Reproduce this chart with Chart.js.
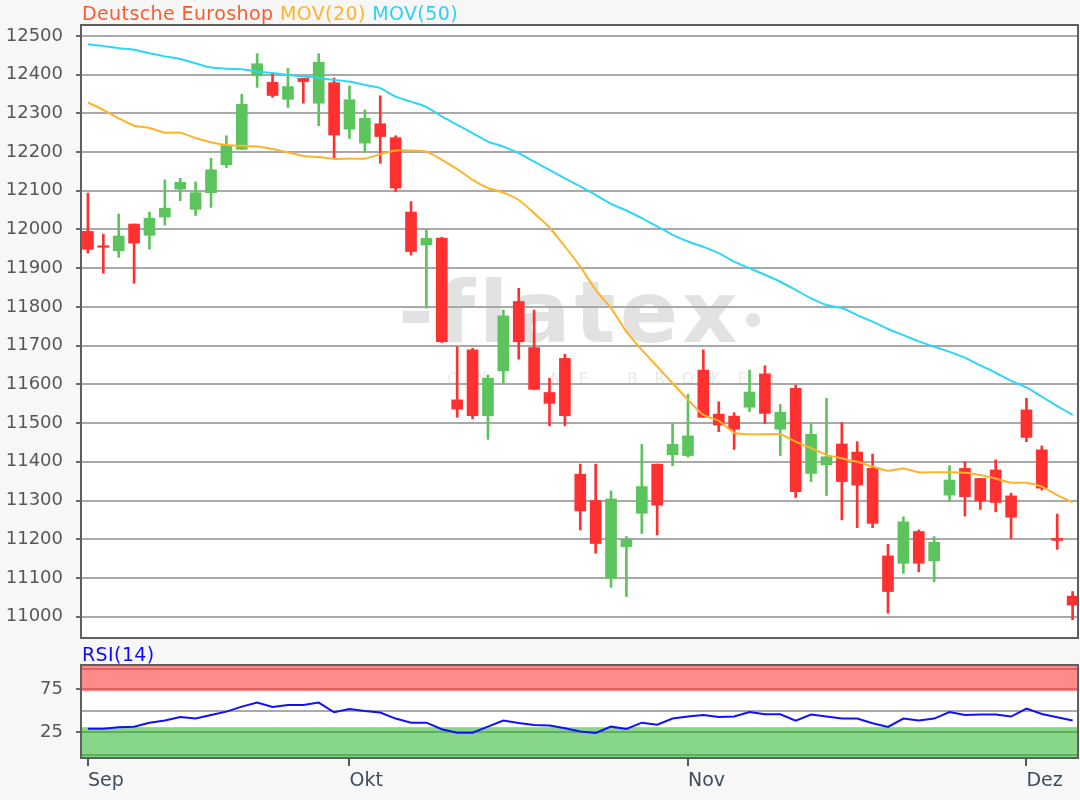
<!DOCTYPE html>
<html>
<head>
<meta charset="utf-8">
<script src="https://cdn.jsdelivr.net/npm/chart.js@4.4.0/dist/chart.umd.min.js"></script>
<style>
  html, body { margin: 0; padding: 0; background: #f7f7f7; }
  #wrap { position: relative; width: 1080px; height: 800px; overflow: hidden; font-family: "DejaVu Sans", sans-serif; }
  #main { position: absolute; left: 0; top: 0; }
  #rsi { position: absolute; left: 0; top: 640px; }
  .lbl { position: absolute; font-size: 19px; line-height: 20px; white-space: nowrap; letter-spacing: 0.4px; }
</style>
</head>
<body>
<div id="wrap">
  <canvas id="main" width="1080" height="640"></canvas>
  <canvas id="rsi" width="1080" height="160"></canvas>
  <div class="lbl" style="left:82px;top:3px;"><span style="color:#ff5a2e">Deutsche Euroshop</span> <span style="color:#ffb32a">MOV(20)</span> <span style="color:#2ed0f2">MOV(50)</span></div>
  <div class="lbl" style="left:82px;top:644px;color:#0a0aff">RSI(14)</div>
</div>
<script>
// === DATEN ===
const monthTicks = [0, 17, 39, 61];
const monthLabels = ["Sep", "Okt", "Nov", "Dez"];
const priceTicks = [11000, 11100, 11200, 11300, 11400, 11500, 11600, 11700, 11800, 11900, 12000, 12100, 12200, 12300, 12400, 12500];
const rsiTicks = [25, 50, 75];

const open = [
  11995, 11958, 11945, 12014, 11985, 12032, 12104, 12052, 12095, 12167,
  12207, 12397, 12380, 12336, 12390, 12326, 12379, 12259, 12223, 12273,
  12237, 12045, 11960, 11978, 11560, 11689, 11519, 11635, 11814, 11695,
  11579, 11667, 11368, 11300, 11099, 11181, 11267, 11394, 11418, 11416,
  11637, 11523, 11518, 11541, 11627, 11484, 11590, 11370, 11392, 11446,
  11425, 11383, 11157, 11138, 11220, 11144, 11314, 11383, 11357, 11379,
  11312, 11534, 11431, 11202, 11053
];
const high = [
  12094, 11988, 12040, 12014, 12045, 12128, 12132, 12123, 12184, 12242,
  12349, 12454, 12404, 12416, 12390, 12454, 12391, 12371, 12309, 12345,
  12242, 12072, 11999, 11980, 11697, 11693, 11624, 11792, 11848, 11792,
  11616, 11678, 11394, 11394, 11325, 11207, 11445, 11394, 11498, 11574,
  11689, 11555, 11527, 11637, 11648, 11548, 11598, 11498, 11564, 11501,
  11452, 11420, 11187, 11258, 11224, 11207, 11390, 11400, 11357, 11405,
  11319, 11564, 11441, 11265, 11065
];
const low = [
  11939, 11887, 11928, 11861, 11949, 12011, 12074, 12036, 12057, 12160,
  12207, 12367, 12341, 12315, 12326, 12268, 12184, 12235, 12199, 12171,
  12098, 11934, 11797, 11708, 11515, 11511, 11458, 11603, 11665, 11586,
  11493, 11493, 11224, 11164, 11076, 11052, 11215, 11211, 11390, 11412,
  11515, 11478, 11432, 11530, 11499, 11416, 11308, 11349, 11313, 11250,
  11230, 11230, 11009, 11112, 11116, 11090, 11297, 11260, 11277, 11271,
  11202, 11452, 11327, 11174, 10992
];
const close = [
  11949, 11954, 11983, 11965, 12029, 12055, 12122, 12095, 12154, 12217,
  12323, 12428, 12346, 12369, 12382, 12432, 12244, 12335, 12287, 12240,
  12107, 11943, 11977, 11710, 11536, 11519, 11616, 11777, 11710, 11587,
  11551, 11519, 11273, 11189, 11304, 11200, 11336, 11288, 11445, 11467,
  11515, 11495, 11484, 11580, 11525, 11528, 11323, 11471, 11413, 11349,
  11340, 11241, 11065, 11245, 11138, 11192, 11353, 11310, 11299, 11295,
  11257, 11463, 11332, 11197, 11030
];
const mov20 = [
  12328, 12309, 12287, 12268, 12262, 12250, 12250, 12236, 12225, 12218,
  12216, 12214, 12208, 12199, 12190, 12187, 12182, 12183, 12183, 12194,
  12204, 12204, 12201, 12180, 12156, 12128, 12107, 12095, 12076, 12042,
  12005, 11956, 11904, 11844, 11797, 11736, 11689, 11646, 11603, 11560,
  11521, 11506, 11475, 11471, 11471, 11471, 11452, 11435, 11418, 11409,
  11400, 11388, 11377, 11383, 11373, 11373, 11373, 11372, 11366, 11357,
  11346, 11346, 11336, 11314, 11295
];
const mov50 = [
  12478, 12474, 12468, 12464, 12455, 12447, 12440, 12429, 12418, 12415,
  12414, 12408, 12404, 12399, 12395, 12391, 12386, 12382, 12373, 12365,
  12343, 12330, 12316, 12292, 12270, 12249, 12227, 12214, 12197, 12175,
  12154, 12132, 12111, 12089, 12066, 12049, 12029, 12008, 11986, 11969,
  11955, 11939, 11917, 11900, 11883, 11865, 11844, 11822, 11805, 11797,
  11779, 11762, 11743, 11727, 11711, 11697, 11684, 11669, 11649, 11630,
  11609, 11592, 11568, 11544, 11521
];
const rsi14 = [
  29.3, 29.3, 31.0, 31.6, 36.2, 38.6, 42.8, 40.9, 45.0, 48.9,
  54.7, 59.3, 54.3, 56.6, 56.6, 59.3, 48.2, 52.0, 49.7, 47.8,
  40.9, 36.2, 36.2, 28.6, 24.7, 24.7, 31.6, 38.6, 35.9, 33.6,
  33.0, 29.7, 25.9, 24.3, 31.6, 29.0, 36.2, 33.9, 40.9, 43.2,
  45.0, 42.8, 43.2, 48.5, 45.8, 45.8, 38.6, 45.5, 43.2, 40.9,
  40.9, 35.5, 31.3, 40.9, 38.6, 40.9, 48.5, 45.0, 45.5, 45.5,
  43.2, 52.4, 46.2, 42.4, 38.6
];

// === STIL ===
const FONT = "'DejaVu Sans', sans-serif";
const UP = "#5cc45c";
const DOWN = "#ff3030";
const candleColor = close.map((c, i) => (c >= open[i] ? UP : DOWN));

const xMin = -0.45, xMax = 64.35;

// feste Achsenbreite, keine Extra-Polsterung durch Beschriftung
const fixYAxis = s => {
  s.width = 81;
  s.paddingTop = 0;
  s.paddingBottom = 0;
};

const plotFrame = {
  id: "plotFrame",
  beforeDraw(chart) {
    const { ctx, chartArea: a } = chart;
    ctx.save();
    ctx.fillStyle = "#ffffff";
    ctx.fillRect(a.left, a.top, a.width, a.height);
    ctx.restore();
  },
  afterDraw(chart) {
    const { ctx, chartArea: a } = chart;
    ctx.save();
    ctx.strokeStyle = "#5e5e5e";
    ctx.lineWidth = 2;
    ctx.strokeRect(a.left, a.top, a.width, a.height);
    ctx.restore();
  }
};

// flatex-Wasserzeichen, unter dem Gitter
const watermark = {
  id: "watermark",
  beforeDraw(chart) {
    const { ctx } = chart;
    ctx.save();
    ctx.fillStyle = "#e2e2e2";
    ctx.textAlign = "left";
    ctx.textBaseline = "alphabetic";
    ctx.font = "bold 86px " + FONT;
    ctx.letterSpacing = "4px";
    ctx.fillText("-flatex", 398, 342);
    ctx.beginPath();
    ctx.arc(753, 320, 7, 0, Math.PI * 2);
    ctx.fill();
    ctx.fillStyle = "#eaeaea";
    ctx.font = "15px " + FONT;
    ctx.letterSpacing = "17px";
    ctx.fillText("ONLINE BROKER", 447, 384);
    ctx.restore();
  }
};

const rsiBands = {
  id: "rsiBands",
  beforeDatasetsDraw(chart) {
    const { ctx, chartArea: a, scales: { y } } = chart;
    const band = (from, to, fill, line, lines) => {
      const y1 = y.getPixelForValue(from), y2 = y.getPixelForValue(to);
      ctx.fillStyle = fill;
      ctx.fillRect(a.left, Math.min(y1, y2), a.width, Math.abs(y2 - y1));
      ctx.strokeStyle = line;
      ctx.lineWidth = 2;
      lines.forEach(v => {
        const py = Math.round(y.getPixelForValue(v));
        ctx.beginPath();
        ctx.moveTo(a.left, py);
        ctx.lineTo(a.right, py);
        ctx.stroke();
      });
    };
    ctx.save();
    band(101.5, 72.5, "#ff8a8a", "#dd6262", [97.5, 75]);
    band(31, -4.5, "#88d788", "#5fae5f", [25, -0.5]);
    ctx.restore();
  }
};

// === KURS-CHART ===
new Chart(document.getElementById("main"), {
  type: "bar",
  data: {
    datasets: [
      {
        label: "Docht",
        data: low.map((l, i) => ({ x: i, y: [l, high[i]] })),
        backgroundColor: candleColor,
        barThickness: 2,
        grouped: false,
        order: 3
      },
      {
        label: "Kerze",
        data: open.map((o, i) => ({ x: i, y: [o, close[i]] })),
        backgroundColor: candleColor,
        barThickness: 11,
        grouped: false,
        order: 2
      },
      {
        type: "line",
        label: "MOV(20)",
        data: mov20.map((v, i) => ({ x: i, y: v })),
        borderColor: "#ffb32a",
        borderWidth: 2,
        pointRadius: 0,
        tension: 0.2,
        order: 1
      },
      {
        type: "line",
        label: "MOV(50)",
        data: mov50.map((v, i) => ({ x: i, y: v })),
        borderColor: "#2ed6f5",
        borderWidth: 2,
        pointRadius: 0,
        tension: 0.2,
        order: 0
      }
    ]
  },
  options: {
    responsive: false,
    animation: false,
    events: [],
    layout: { padding: { top: 25, right: 2, bottom: 2, left: 0 } },
    plugins: { legend: { display: false }, tooltip: { enabled: false } },
    scales: {
      x: {
        type: "linear",
        min: xMin,
        max: xMax,
        offset: false,
        ticks: { display: false },
        grid: { display: false, drawTicks: false },
        border: { display: false },
        afterFit: s => { s.height = 0; s.paddingLeft = 0; s.paddingRight = 0; }
      },
      y: {
        min: 10945,
        max: 12528,
        afterBuildTicks: s => { s.ticks = priceTicks.map(v => ({ value: v })); },
        afterFit: fixYAxis,
        border: { display: false },
        grid: { color: "#a9a9a9", lineWidth: 2, tickLength: 5, tickColor: "#6a6a6a" },
        ticks: { color: "#575757", padding: 13, font: { family: FONT, size: 18 }, callback: v => String(v) }
      }
    }
  },
  plugins: [plotFrame, watermark]
});

// === RSI-CHART ===
new Chart(document.getElementById("rsi"), {
  type: "line",
  data: {
    datasets: [{
      label: "RSI(14)",
      data: rsi14.map((v, i) => ({ x: i, y: v })),
      borderColor: "#1010ff",
      borderWidth: 2,
      pointRadius: 0,
      tension: 0
    }]
  },
  options: {
    responsive: false,
    animation: false,
    events: [],
    layout: { padding: { top: 25, right: 2, bottom: 0, left: 0 } },
    plugins: { legend: { display: false }, tooltip: { enabled: false } },
    scales: {
      x: {
        type: "linear",
        min: xMin,
        max: xMax,
        offset: false,
        afterBuildTicks: s => { s.ticks = monthTicks.map(v => ({ value: v })); },
        afterFit: s => { s.height = 42; s.paddingLeft = 0; s.paddingRight = 0; },
        border: { display: false },
        grid: { drawOnChartArea: false, tickLength: 8, tickColor: "#4a5a6c", lineWidth: 2 },
        ticks: {
          align: "start",
          padding: 4,
          color: "#3e4c5e",
          font: { family: FONT, size: 19 },
          callback: v => monthLabels[monthTicks.indexOf(v)]
        }
      },
      y: {
        min: -4.5,
        max: 102.6,
        afterBuildTicks: s => { s.ticks = rsiTicks.map(v => ({ value: v })); },
        afterFit: fixYAxis,
        border: { display: false },
        grid: {
          color: "#a9a9a9",
          lineWidth: 2,
          tickLength: 5,
          tickColor: c => (c.tick && c.tick.value === 50 ? "rgba(0,0,0,0)" : "#6a6a6a")
        },
        ticks: {
          color: "#575757",
          padding: 13,
          font: { family: FONT, size: 18 },
          callback: v => (v === 50 ? "" : String(v))
        }
      }
    }
  },
  plugins: [plotFrame, rsiBands]
});
</script>
</body>
</html>
